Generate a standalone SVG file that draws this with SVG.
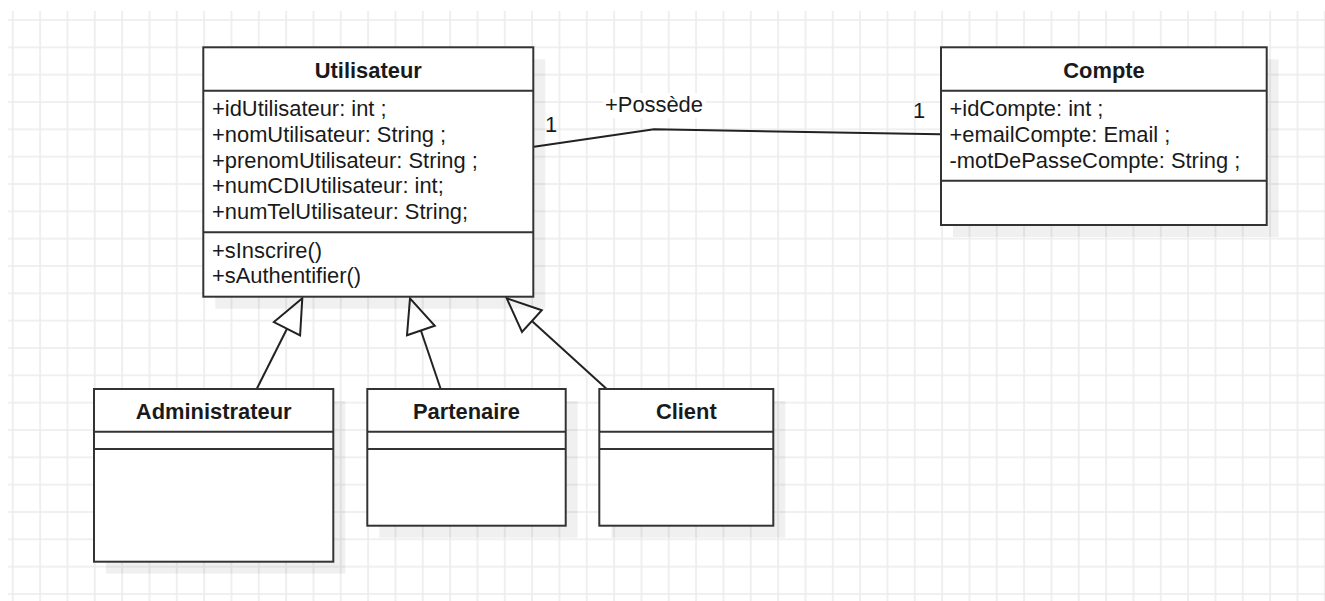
<svg xmlns="http://www.w3.org/2000/svg" width="1325" height="601" viewBox="0 0 1325 601">
  <defs>
    <!-- background drawing grid -->
    <pattern id="grid" patternUnits="userSpaceOnUse" x="-0.867" y="6.333" width="27.333" height="27.333">
      <path d="M13.667 0 V27.333 M0 13.667 H27.333" stroke="#ebebeb" stroke-width="1.5" fill="none"/>
    </pattern>
  </defs>
  <style>
    .box { fill: #ffffff; stroke: #333333; stroke-width: 2; }
    .shadow { fill: #000000; fill-opacity: 0.06; }
    .sep { stroke: #333333; stroke-width: 2; }
    .title { font-family: "Liberation Sans", Arial, sans-serif; font-size: 21.9px; font-weight: bold; fill: #1a1a1a; text-anchor: middle; }
    .member { font-family: "Liberation Sans", Arial, sans-serif; font-size: 21.9px; fill: #1a1a1a; }
    .edge { fill: none; stroke: #222222; stroke-width: 2; }
    .head { fill: #ffffff; stroke: #222222; stroke-width: 2; stroke-linejoin: miter; }
    .label { font-family: "Liberation Sans", Arial, sans-serif; font-size: 21.9px; fill: #1a1a1a; }
  </style>

  <rect x="0" y="0" width="1325" height="601" fill="#ffffff"/>
  <rect x="8" y="11" width="1317" height="590" fill="url(#grid)"/>

  <!-- associations and generalizations -->
  <g id="connectors">
    <path class="edge" d="M534 146.7 L654 129.3 L940 134.3"/>
    <rect x="603" y="93" width="103" height="25" fill="#ffffff"/>
    <text class="label" x="605" y="112">+Possède</text>
    <text class="label" x="545" y="131.5">1</text>
    <text class="label" x="913" y="118">1</text>

    <path class="edge" d="M256.7 389 L287 328.7"/>
    <polygon class="head" points="302.3,298.3 273.9,322.1 300.1,335.3"/>

    <path class="edge" d="M440.7 389 L420.9 330.5"/>
    <polygon class="head" points="410,298.3 434.8,325.8 407,335.2"/>

    <path class="edge" d="M606.7 389 L531.9 321.1"/>
    <polygon class="head" points="506.7,298.3 541.8,310.2 522,332"/>
  </g>

  <g id="utilisateur">
    <rect class="shadow" x="215.3" y="59.3" width="330" height="249.4"/>
    <rect class="box" x="203.3" y="47.3" width="330" height="249.4"/>
    <line class="sep" x1="203.3" y1="90.7" x2="533.3" y2="90.7"/>
    <line class="sep" x1="203.3" y1="232.3" x2="533.3" y2="232.3"/>
    <text class="title" x="368.3" y="78">Utilisateur</text>
    <text class="member" x="212" y="116">+idUtilisateur: int ;</text>
    <text class="member" x="212" y="141.8">+nomUtilisateur: String ;</text>
    <text class="member" x="212" y="167.6">+prenomUtilisateur: String ;</text>
    <text class="member" x="212" y="193.4">+numCDIUtilisateur: int;</text>
    <text class="member" x="212" y="219.2">+numTelUtilisateur: String;</text>
    <text class="member" x="212" y="257.5">+sInscrire()</text>
    <text class="member" x="212" y="283.3">+sAuthentifier()</text>
  </g>

  <g id="compte">
    <rect class="shadow" x="953" y="59.3" width="325.7" height="177.7"/>
    <rect class="box" x="941" y="47.3" width="325.7" height="177.7"/>
    <line class="sep" x1="941" y1="90.7" x2="1266.7" y2="90.7"/>
    <line class="sep" x1="941" y1="180.7" x2="1266.7" y2="180.7"/>
    <text class="title" x="1104" y="78">Compte</text>
    <text class="member" x="949.5" y="116">+idCompte: int ;</text>
    <text class="member" x="949.5" y="141.8">+emailCompte: Email ;</text>
    <text class="member" x="949.5" y="167.6">-motDePasseCompte: String ;</text>
  </g>

  <g id="administrateur">
    <rect class="shadow" x="106" y="401" width="239.3" height="172.7"/>
    <rect class="box" x="94" y="389" width="239.3" height="172.7"/>
    <line class="sep" x1="94" y1="431.7" x2="333.3" y2="431.7"/>
    <line class="sep" x1="94" y1="449" x2="333.3" y2="449"/>
    <text class="title" x="213.7" y="419">Administrateur</text>
  </g>

  <g id="partenaire">
    <rect class="shadow" x="379.3" y="401" width="198.4" height="136.7"/>
    <rect class="box" x="367.3" y="389" width="198.4" height="136.7"/>
    <line class="sep" x1="367.3" y1="431.7" x2="565.7" y2="431.7"/>
    <line class="sep" x1="367.3" y1="449" x2="565.7" y2="449"/>
    <text class="title" x="466.5" y="419">Partenaire</text>
  </g>

  <g id="client">
    <rect class="shadow" x="611.3" y="401" width="174" height="136.7"/>
    <rect class="box" x="599.3" y="389" width="174" height="136.7"/>
    <line class="sep" x1="599.3" y1="431.7" x2="773.3" y2="431.7"/>
    <line class="sep" x1="599.3" y1="449" x2="773.3" y2="449"/>
    <text class="title" x="686.3" y="419">Client</text>
  </g>
</svg>
